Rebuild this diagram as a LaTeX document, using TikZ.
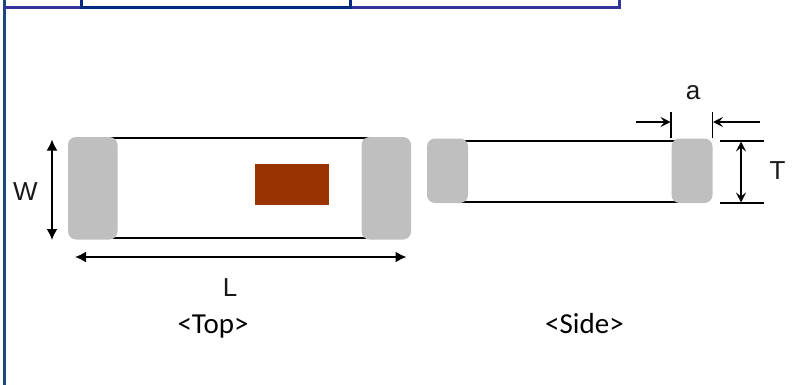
\documentclass[tikz,border=0pt]{standalone}
\usepackage{fontspec}
\setmainfont{Liberation Sans}
\newfontfamily\capfont{Carlito}
\usetikzlibrary{arrows.meta}
\definecolor{framepurple}{HTML}{333399}
\definecolor{frameblue}{HTML}{002A80}
\definecolor{frameside}{HTML}{1F497D}
\definecolor{padgray}{HTML}{BFBFBF}
\definecolor{markred}{HTML}{993300}
\tikzset{
  framep/.style={draw=framepurple,line width=3pt},
  frameb/.style={draw=frameblue,line width=3pt},
  frames/.style={draw=frameside,line width=3pt},
  padbox/.style={fill=padgray,draw=none,rounded corners=8pt,inner sep=0pt,outer sep=0pt},
  bodyline/.style={draw=black,line width=2pt},
  thinline/.style={draw=black,line width=1.8pt},
  dimbig/.style={draw=black,line width=1.8pt,{Latex[length=11pt,width=11pt]}-{Latex[length=11pt,width=11pt]}},
  dimsmall/.style={draw=black,line width=1.6pt,{Stealth[length=10pt,width=10pt,inset=4pt]}-{Stealth[length=10pt,width=10pt,inset=4pt]}},
  dimone/.style={draw=black,line width=1.6pt,-{Stealth[length=10pt,width=10pt,inset=4pt]}},
  dimlabel/.style={inner sep=0pt,font=\fontsize{26}{26}\selectfont,text=black!90},
  captext/.style={inner sep=0pt,anchor=base,font=\capfont\fontsize{29}{30}\selectfont,text=black}
}
\begin{document}
\begin{tikzpicture}[x=1pt,y=-1pt]
\useasboundingbox (0,0) rectangle (797,385);
% frame
\coordinate (fa) at (4.5,0); \coordinate (fb) at (4.5,385);
\coordinate (h0) at (3,7.5); \coordinate (h1) at (81,7.5); \coordinate (h2) at (350.5,7.5); \coordinate (h3) at (621,7.5);
\draw[frames] (fa) -- (fb);
\draw[framep] (h0) -- (h1);
\draw[framep] (h2) -- (h3);
\draw[frameb] (h1) -- (h2);
\draw[frameb] (81,0) -- (81,9);
\draw[frameb] (350.5,0) -- (350.5,9);
\draw[framep] (619.5,0) -- (619.5,9);
% top view
\coordinate (tt1) at (95,138.3); \coordinate (tt2) at (385,138.3);
\coordinate (tb1) at (95,238); \coordinate (tb2) at (385,238);
\draw[bodyline] (tt1) -- (tt2);
\draw[bodyline] (tb1) -- (tb2);
\node[fill=markred,inner sep=0pt,minimum width=74pt,minimum height=41pt] (topmark) at (292,184.5) {};
\node[padbox,minimum width=49.5pt,minimum height=102.5pt] (tpadl) at (92.75,188.25) {};
\node[padbox,minimum width=49.5pt,minimum height=102.5pt] (tpadr) at (386.25,188.25) {};
% side view
\coordinate (st1) at (450,140.5); \coordinate (st2) at (690,140.5);
\coordinate (sb1) at (450,202); \coordinate (sb2) at (690,202);
\draw[bodyline] (st1) -- (st2);
\draw[bodyline] (sb1) -- (sb2);
\node[padbox,minimum width=41pt,minimum height=64.5pt] (spadl) at (447.5,170.75) {};
\node[padbox,minimum width=41pt,minimum height=64.5pt] (spadr) at (692,170.75) {};
% W and L
\coordinate (wt) at (52,139.5); \coordinate (wb) at (52,240);
\draw[dimbig] (wt) -- (wb);
\coordinate (ll) at (75,257); \coordinate (lr) at (406.5,257);
\draw[dimbig] (ll) -- (lr);
% a
\coordinate (a1t) at (671,112); \coordinate (a1b) at (671,137.5);
\coordinate (a2t) at (712.5,112); \coordinate (a2b) at (712.5,137.5);
\draw[thinline] (a1t) -- (a1b);
\draw[thinline] (a2t) -- (a2b);
\coordinate (aa) at (636,122); \coordinate (ab) at (670.5,122);
\coordinate (ac) at (759.5,122); \coordinate (ad) at (713,122);
\draw[dimone] (aa) -- (ab);
\draw[dimone] (ac) -- (ad);
% T
\coordinate (t1l) at (720,141); \coordinate (t1r) at (764,141);
\coordinate (t2l) at (720,203); \coordinate (t2r) at (764,203);
\draw[thinline] (t1l) -- (t1r);
\draw[thinline] (t2l) -- (t2r);
\coordinate (tdt) at (741,141.5); \coordinate (tdb) at (741,202.5);
\draw[dimsmall] (tdt) -- (tdb);
% labels
\node[dimlabel] (lw) at (25.5,191.5) {W};
\node[dimlabel] (lL) at (230,288) {L};
\node[dimlabel] (la) at (693,93) {a};
\node[dimlabel] (lT) at (777.5,170.5) {T};
\node[captext] (ctop) at (213,333.5) {<Top>};
\node[captext] (cside) at (584.5,333.5) {<Side>};
\end{tikzpicture}
\end{document}
